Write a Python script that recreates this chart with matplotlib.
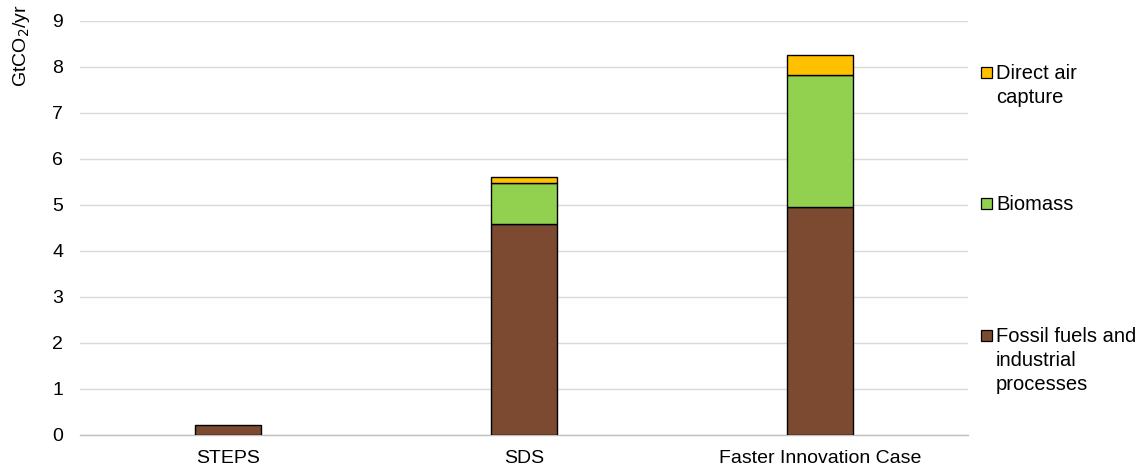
import matplotlib.pyplot as plt
import matplotlib.patches as mpatches
import numpy as np

plt.rcParams['font.family'] = ['Liberation Sans', 'DejaVu Sans']

# data
categories = ['STEPS', 'SDS', 'Faster Innovation Case']
fossil = [0.22, 4.59, 4.95]
biomass = [0.0, 0.89, 2.87]
dac = [0.0, 0.13, 0.44]
series_names = ['Fossil fuels and\nindustrial\nprocesses', 'Biomass', 'Direct air\ncapture']
series_colors = ['#7B4A30', '#92D050', '#FFC000']

W, H = 1143, 472
fig = plt.figure(figsize=(W / 100, H / 100), dpi=100)
ax = fig.add_axes([80 / W, 1 - 434.7 / H, 888 / W, 414 / H])

x = np.arange(len(categories))
w = 0.223
bottom = np.zeros(len(categories))
for vals, col in zip([fossil, biomass, dac], series_colors):
    vals = np.array(vals)
    mask = vals > 0
    ax.bar(x[mask], vals[mask], w, bottom=bottom[mask], color=col,
           edgecolor='black', linewidth=1, zorder=3)
    bottom += vals

ax.set_xlim(-0.5, len(categories) - 0.5)
ax.set_ylim(0, 9)
ax.set_yticks(range(0, 10))
ax.set_xticks(x)
ax.set_xticklabels(categories)
ax.tick_params(axis='both', length=0, labelsize=14, colors='black')
ax.tick_params(axis='y', pad=12)
ax.tick_params(axis='x', pad=11)
ax.yaxis.grid(True, color='#D9D9D9', linewidth=1, zorder=0)
for s in ['top', 'right', 'left']:
    ax.spines[s].set_visible(False)
ax.spines['bottom'].set_color('#BFBFBF')
ax.spines['bottom'].set_linewidth(1)
fig.text(22 / W, 1 - 46 / H, 'GtCO$_2$/yr', fontsize=14, rotation=90,
         ha='center', va='center')

# legend beside the axes; marker centres in pixels from the top
legend_px = [335, 203, 72]
for name, col, py in zip(series_names, series_colors, legend_px):
    yfig = 1 - py / H
    fig.patches.append(mpatches.Rectangle((981 / W, yfig - 5.5 / H), 11 / W, 11 / H,
                                          transform=fig.transFigure, facecolor=col,
                                          edgecolor='black', linewidth=0.9))
    fig.text(996 / W, yfig + 8 / H, name, fontsize=14.5, va='top', ha='left',
             linespacing=1.35)

fig.savefig('out.png', dpi=100)
